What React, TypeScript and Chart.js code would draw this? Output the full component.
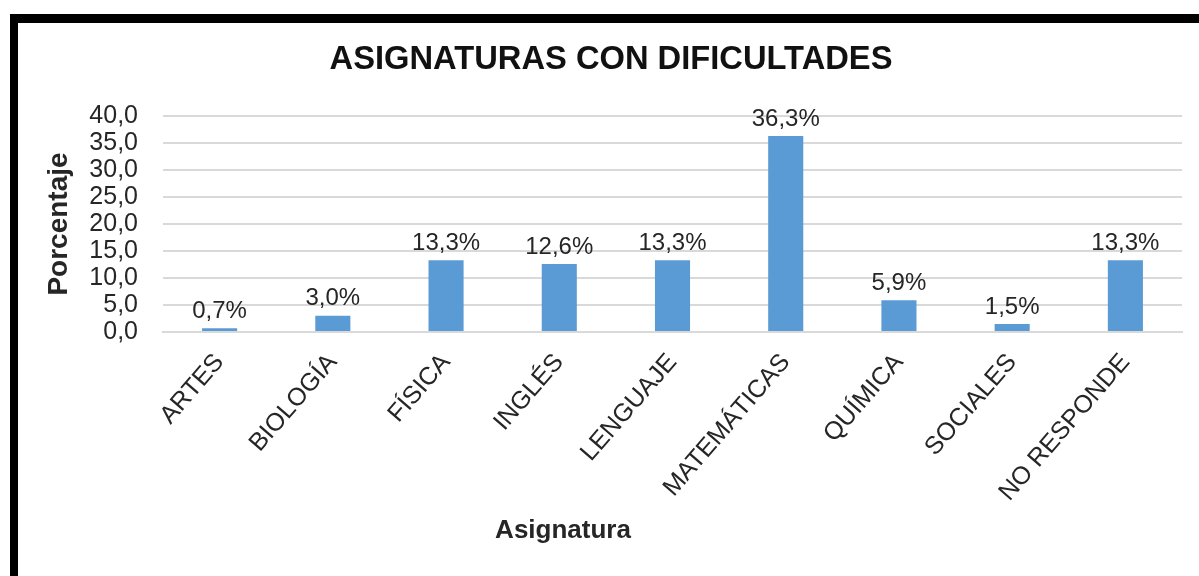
import React, { useEffect, useRef } from "react";
import { Chart, registerables } from "chart.js";

Chart.register(...registerables);

const categories = [
  "ARTES",
  "BIOLOGÍA",
  "FÍSICA",
  "INGLÉS",
  "LENGUAJE",
  "MATEMÁTICAS",
  "QUÍMICA",
  "SOCIALES",
  "NO RESPONDE",
];
const percentages = [0.7, 3.0, 13.3, 12.6, 13.3, 36.3, 5.9, 1.5, 13.3];
const yMin = 0;
const yMax = 40;
const yStep = 5;
const chartTitle = "ASIGNATURAS CON DIFICULTADES";
const xAxisTitle = "Asignatura";
const yAxisTitle = "Porcentaje";

const FONT = '"Liberation Sans", Arial, sans-serif';
const TEXT = "#262626";
const BAR = "#5B9BD5";
const GRID = "#D9D9D9";

const fmt = (v: number) => v.toFixed(1).replace(".", ",");

const textPlugin = {
  id: "customText",
  afterDatasetsDraw(chart: any) {
    const ctx = chart.ctx;
    const meta = chart.getDatasetMeta(0);
    ctx.save();
    ctx.fillStyle = TEXT;
    ctx.font = `24px ${FONT}`;
    ctx.textAlign = "center";
    ctx.textBaseline = "bottom";
    meta.data.forEach((bar: any, i: number) => {
      ctx.fillText(fmt(percentages[i]) + "%", bar.x, bar.y - 5);
    });

    // main title
    ctx.fillStyle = "#111";
    ctx.font = `bold 32.7px ${FONT}`;
    ctx.textBaseline = "middle";
    ctx.fillText(chartTitle, 611, 60);

    // x axis title
    ctx.font = `bold 26px ${FONT}`;
    ctx.fillStyle = TEXT;
    ctx.fillText(xAxisTitle, 563, 531);

    // y axis title
    ctx.translate(59, 224);
    ctx.rotate(-Math.PI / 2);
    ctx.font = `bold 28px ${FONT}`;
    ctx.fillText(yAxisTitle, 0, 0);
    ctx.restore();
  },
};

export default function App() {
  const ref = useRef<HTMLCanvasElement | null>(null);

  useEffect(() => {
    if (!ref.current) return;
    const chart = new Chart(ref.current, {
      type: "bar",
      data: {
        labels: categories,
        datasets: [
          {
            data: percentages,
            backgroundColor: BAR,
            categoryPercentage: 1,
            barPercentage: 0.31,
          },
        ],
      },
      options: {
        responsive: false,
        animation: false,
        layout: { padding: { top: 116, right: 17, bottom: 0, left: 0 } },
        plugins: {
          legend: { display: false },
          title: { display: false },
          tooltip: { enabled: false },
        },
        scales: {
          x: {
            grid: { display: false, drawTicks: false },
            border: { display: true, color: GRID, width: 2 },
            ticks: {
              color: TEXT,
              font: { family: FONT, size: 25 },
              minRotation: 49,
              maxRotation: 49,
              autoSkip: false,
              padding: 16,
            },
            afterFit: (s: any) => {
              s.height = 244;
            },
          },
          y: {
            min: yMin,
            max: yMax,
            ticks: {
              stepSize: yStep,
              autoSkip: false,
              color: TEXT,
              font: { family: FONT, size: 25, lineHeight: 1 },
              padding: 25,
              callback: (v: any) => fmt(Number(v)),
            },
            grid: { color: GRID, lineWidth: 2, drawTicks: false },
            border: { display: false },
            afterFit: (s: any) => {
              s.width = 163;
            },
          },
        },
      },
      plugins: [textPlugin],
    });
    return () => chart.destroy();
  }, []);

  return (
    <div
      style={{
        position: "absolute",
        left: 0,
        top: 0,
        width: 1199,
        height: 576,
        background: "#fff",
        overflow: "hidden",
      }}
    >
      <div
        style={{
          position: "absolute",
          left: 10,
          top: 14,
          width: 1300,
          height: 700,
          borderLeft: "8px solid #000",
          borderTop: "9px solid #000",
          boxSizing: "border-box",
        }}
      />
      <canvas
        ref={ref}
        width={1199}
        height={576}
        style={{ position: "absolute", left: 0, top: 0 }}
      />
    </div>
  );
}
